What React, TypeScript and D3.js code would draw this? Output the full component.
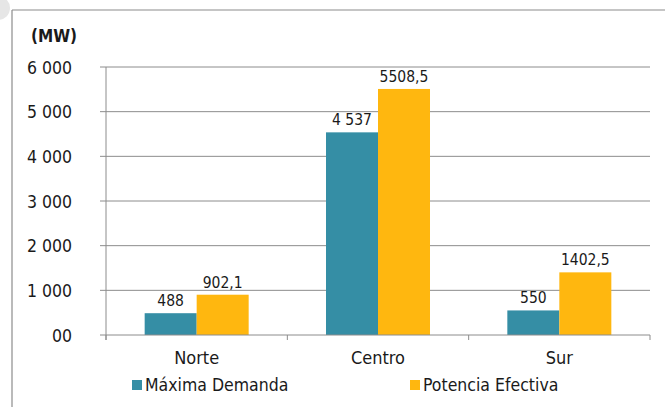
import React from "react";
import * as d3 from "d3";

const categories = ["Norte", "Centro", "Sur"];
const seriesNames = ["Máxima Demanda", "Potencia Efectiva"];
const maximaDemanda = [488, 4537, 550];
const potenciaEfectiva = [902.1, 5508.5, 1402.5];
const demandaLabels = ["488", "4 537", "550"];
const potenciaLabels = ["902,1", "5508,5", "1402,5"];
const yTicks = [0, 1000, 2000, 3000, 4000, 5000, 6000];
const yTickLabels = ["00", "1 000", "2 000", "3 000", "4 000", "5 000", "6 000"];
const colors = ["#358EA5", "#FFB70F"];

const W = 665;
const H = 407;
const FONT = "'DejaVu Sans Condensed', 'DejaVu Sans', Verdana, sans-serif";

export default function App() {
  const left = 106;
  const right = 650;
  const top = 67;
  const bottom = 335;
  const x = d3.scaleBand<string>().domain(categories).range([left, right]).paddingInner(0).paddingOuter(0);
  const y = d3.scaleLinear().domain([0, 6000]).range([bottom, top]);
  const barW = 52;
  const series = [maximaDemanda, potenciaEfectiva];
  const labels = [demandaLabels, potenciaLabels];
  const boundaries = [left, ...categories.map((c) => (x(c) as number) + x.bandwidth())];

  return (
    <svg width={W} height={H} style={{ position: "absolute", left: 0, top: 0, background: "#fff" }} fontFamily={FONT}>
      <rect x={0} y={0} width={W} height={H} fill="#fff" />
      <circle cx={-2} cy={8} r={12} fill="#e6e6e6" />
      <line x1={12} y1={10} x2={W} y2={10} stroke="#8c8c8c" strokeWidth={1.2} />
      <line x1={12} y1={10} x2={12} y2={H} stroke="#8c8c8c" strokeWidth={1.2} />
      <text x={31} y={42} fontSize={17} fill="#1a1a1a" fontWeight="bold">(MW)</text>
      {yTicks.map((t, i) => (
        <g key={t}>
          {t > 0 && <line x1={left} x2={right} y1={y(t)} y2={y(t)} stroke="#8c8c8c" strokeWidth={1} />}
          <line x1={left - 6} x2={left} y1={y(t)} y2={y(t)} stroke="#8c8c8c" strokeWidth={1} />
          <text x={72} y={y(t) + 6.5} fontSize={17.5} textAnchor="end" fill="#1a1a1a">{yTickLabels[i]}</text>
        </g>
      ))}
      <line x1={left} x2={left} y1={top} y2={bottom + 5} stroke="#8c8c8c" strokeWidth={1} />
      {series.map((vals, s) =>
        categories.map((c, i) => {
          const cx = (x(c) as number) + x.bandwidth() / 2;
          const bx = cx - barW + s * barW;
          return (
            <g key={c + s}>
              <rect x={bx} y={y(vals[i])} width={barW} height={bottom - y(vals[i])} fill={colors[s]} />
              <text x={bx + barW / 2} y={y(vals[i]) - 7} fontSize={15.5} textAnchor="middle" fill="#1a1a1a">{labels[s][i]}</text>
            </g>
          );
        })
      )}
      <line x1={left} x2={right} y1={bottom} y2={bottom} stroke="#8c8c8c" strokeWidth={1} />
      {boundaries.map((b, i) => (
        <line key={i} x1={b} x2={b} y1={bottom} y2={bottom + 5} stroke="#8c8c8c" strokeWidth={1} />
      ))}
      {categories.map((c) => (
        <text key={c} x={(x(c) as number) + x.bandwidth() / 2} y={364} fontSize={18} textAnchor="middle" fill="#1a1a1a">{c}</text>
      ))}
      {seriesNames.map((n, i) => {
        const lx = i === 0 ? 132 : 410;
        return (
          <g key={n}>
            <rect x={lx} y={380} width={10} height={10} fill={colors[i]} />
            <text x={lx + 13} y={391} fontSize={17.5} fill="#1a1a1a">{n}</text>
          </g>
        );
      })}
    </svg>
  );
}
